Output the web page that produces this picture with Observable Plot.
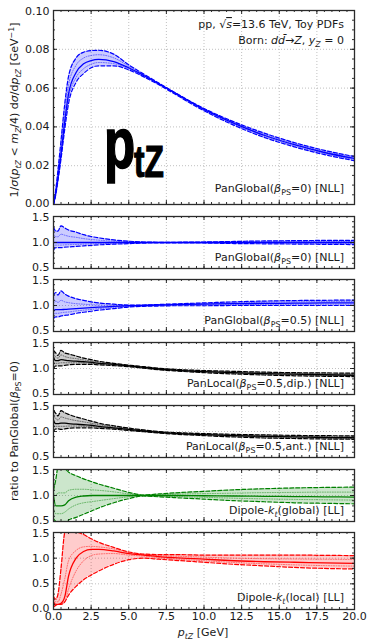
<!DOCTYPE html>
<html><head><meta charset="utf-8">
<script src="https://cdn.jsdelivr.net/npm/d3@7"></script>
<script src="https://cdn.jsdelivr.net/npm/@observablehq/plot@0.6"></script>
<style>
body{margin:0;background:#fff;}
#c{position:relative;width:367px;height:640px;font-family:"DejaVu Sans",sans-serif;}
#c svg{position:absolute;left:0;overflow:visible;}
</style></head><body><div id="c"></div>
<script>
// ---- data ----
const X = [0, 0.15, 0.3, 0.5, 0.75, 1, 1.5, 2, 2.5, 3, 4, 5, 6, 7, 8, 10, 12, 14, 16, 18, 20];
const xTicks = [0, 2.5, 5, 7.5, 10, 12.5, 15, 17.5, 20];
const mainTicks = [0, 0.02, 0.04, 0.06, 0.08, 0.10];
const ratioTicks = [0.5, 1.0, 1.5];
const localTicks = [0.0, 0.5, 1.0, 1.5];

// main panel: PanGlobal(beta=0) distribution
const mainC  = [0, 0.006, 0.014, 0.026, 0.043, 0.057, 0.068, 0.0725, 0.0742, 0.0748, 0.0737, 0.0705, 0.0665, 0.0622, 0.0578, 0.049, 0.0418, 0.0357, 0.0308, 0.0268, 0.0237];
const mainU  = [0, 0.0075, 0.018, 0.033, 0.052, 0.066, 0.0755, 0.0785, 0.0793, 0.0795, 0.0775, 0.072, 0.0672, 0.0626, 0.058, 0.0495, 0.0426, 0.0368, 0.0319, 0.0279, 0.0247];
const mainL  = [0, 0.005, 0.0125, 0.0235, 0.039, 0.052, 0.063, 0.0675, 0.0705, 0.0715, 0.0715, 0.0694, 0.0658, 0.0617, 0.0572, 0.0483, 0.0408, 0.0346, 0.0297, 0.0257, 0.0226];
const mainDU = [0, 0.0068, 0.016, 0.0295, 0.0475, 0.0615, 0.0718, 0.0755, 0.0768, 0.0772, 0.0756, 0.0713, 0.0668, 0.0624, 0.0579, 0.0492, 0.0422, 0.0362, 0.0313, 0.0273, 0.0242];
const mainDL = [0, 0.0055, 0.013, 0.025, 0.041, 0.0545, 0.0655, 0.07, 0.0723, 0.0732, 0.0726, 0.07, 0.0662, 0.062, 0.0575, 0.0487, 0.0413, 0.0352, 0.0302, 0.0262, 0.0232];

// ratio 1: PanGlobal(beta=0)
const r1C  = [1, 1, 1, 1, 1, 1, 1, 1, 1, 1, 1, 1, 1, 1, 1, 1, 1, 1, 1, 1, 1];
const r1U  = [1.3, 1.22, 1.22, 1.32, 1.28, 1.24, 1.2, 1.15, 1.115, 1.09, 1.05, 1.025, 1.01, 1.005, 1.005, 1.01, 1.02, 1.03, 1.035, 1.04, 1.04];
const r1L  = [0.85, 0.9, 0.9, 0.9, 0.91, 0.915, 0.925, 0.935, 0.945, 0.955, 0.968, 0.978, 0.988, 0.993, 0.993, 0.99, 0.98, 0.975, 0.97, 0.965, 0.96];
const r1DU = [1.15, 1.11, 1.11, 1.16, 1.14, 1.12, 1.1, 1.075, 1.058, 1.045, 1.025, 1.012, 1.005, 1.003, 1.003, 1.005, 1.01, 1.015, 1.018, 1.02, 1.02];
const r1DL = [0.92, 0.95, 0.95, 0.95, 0.955, 0.958, 0.962, 0.968, 0.972, 0.978, 0.984, 0.989, 0.994, 0.997, 0.997, 0.995, 0.99, 0.988, 0.985, 0.982, 0.98];

// ratio 2: PanGlobal(beta=0.5)
const r2C  = [0.9, 0.92, 0.92, 0.92, 0.925, 0.93, 0.94, 0.95, 0.96, 0.97, 0.985, 0.995, 1.0, 1.01, 1.015, 1.025, 1.035, 1.04, 1.045, 1.05, 1.05];
const r2U  = [1.2, 1.25, 1.2, 1.28, 1.22, 1.18, 1.13, 1.1, 1.07, 1.05, 1.025, 1.01, 1.01, 1.02, 1.03, 1.05, 1.07, 1.085, 1.095, 1.1, 1.105];
const r2L  = [0.75, 0.78, 0.78, 0.8, 0.81, 0.82, 0.85, 0.87, 0.89, 0.91, 0.94, 0.97, 0.985, 0.99, 0.995, 0.995, 1.0, 1.0, 1.0, 1.0, 1.0];
const r2DU = [1.05, 1.085, 1.06, 1.1, 1.07, 1.055, 1.035, 1.025, 1.015, 1.01, 1.005, 1.003, 1.005, 1.015, 1.022, 1.037, 1.052, 1.062, 1.07, 1.075, 1.078];
const r2DL = [0.83, 0.85, 0.85, 0.86, 0.87, 0.875, 0.895, 0.91, 0.925, 0.94, 0.962, 0.982, 0.992, 1.0, 1.005, 1.01, 1.018, 1.02, 1.022, 1.025, 1.025];

// ratio 3: PanLocal(beta=0.5, dip.)
const r3C  = [1.2, 1.15, 1.15, 1.17, 1.16, 1.15, 1.14, 1.13, 1.12, 1.1, 1.08, 1.05, 1.02, 0.99, 0.97, 0.94, 0.92, 0.9, 0.89, 0.88, 0.87];
const r3U  = [1.35, 1.3, 1.25, 1.35, 1.3, 1.28, 1.24, 1.2, 1.17, 1.14, 1.1, 1.065, 1.035, 1.005, 0.985, 0.96, 0.945, 0.93, 0.92, 0.915, 0.91];
const r3L  = [1.0, 1.05, 1.05, 1.05, 1.06, 1.07, 1.08, 1.08, 1.08, 1.07, 1.055, 1.035, 1.005, 0.975, 0.955, 0.92, 0.895, 0.875, 0.86, 0.85, 0.845];
const r3DU = [1.27, 1.22, 1.2, 1.26, 1.23, 1.21, 1.19, 1.165, 1.145, 1.12, 1.09, 1.057, 1.027, 0.997, 0.977, 0.95, 0.932, 0.915, 0.905, 0.897, 0.89];
const r3DL = [1.1, 1.1, 1.1, 1.11, 1.11, 1.11, 1.11, 1.105, 1.1, 1.085, 1.067, 1.042, 1.012, 0.982, 0.962, 0.93, 0.907, 0.887, 0.875, 0.865, 0.857];

// ratio 4: PanLocal(beta=0.5, ant.)
const r4C  = [1.2, 1.15, 1.15, 1.16, 1.16, 1.15, 1.14, 1.13, 1.12, 1.1, 1.07, 1.04, 1.01, 0.985, 0.965, 0.94, 0.92, 0.905, 0.895, 0.885, 0.88];
const r4U  = [1.4, 1.35, 1.3, 1.4, 1.36, 1.33, 1.28, 1.24, 1.2, 1.16, 1.11, 1.065, 1.03, 1.0, 0.98, 0.96, 0.945, 0.935, 0.925, 0.92, 0.915];
const r4L  = [1.0, 1.05, 1.05, 1.04, 1.05, 1.06, 1.07, 1.07, 1.07, 1.06, 1.045, 1.02, 0.995, 0.97, 0.95, 0.92, 0.895, 0.875, 0.865, 0.855, 0.85];
const r4DU = [1.3, 1.25, 1.22, 1.28, 1.26, 1.24, 1.21, 1.185, 1.16, 1.13, 1.09, 1.052, 1.02, 0.992, 0.972, 0.95, 0.932, 0.92, 0.91, 0.902, 0.897];
const r4DL = [1.1, 1.1, 1.1, 1.1, 1.1, 1.105, 1.105, 1.1, 1.095, 1.08, 1.057, 1.03, 1.002, 0.977, 0.957, 0.93, 0.907, 0.89, 0.88, 0.87, 0.865];

// ratio 5: Dipole-kt(global)
const r5C  = [1.0, 0.8, 0.8, 0.8, 0.82, 0.9, 0.97, 0.99, 1.0, 1.0, 1.0, 1.0, 1.0, 1.0, 1.0, 0.995, 0.99, 0.985, 0.98, 0.975, 0.97];
const r5U  = [1.1, 1.3, 1.55, 1.6, 1.52, 1.45, 1.38, 1.32, 1.27, 1.22, 1.14, 1.06, 1.01, 1.03, 1.05, 1.08, 1.11, 1.13, 1.145, 1.155, 1.16];
const r5L  = [0.55, 0.5, 0.45, 0.45, 0.48, 0.53, 0.58, 0.64, 0.7, 0.76, 0.86, 0.94, 0.99, 0.975, 0.96, 0.93, 0.9, 0.88, 0.86, 0.85, 0.84];
const r5DU = [1.05, 1.0, 1.05, 1.05, 1.05, 1.1, 1.12, 1.12, 1.11, 1.1, 1.07, 1.03, 1.005, 1.015, 1.025, 1.035, 1.045, 1.055, 1.06, 1.065, 1.065];
const r5DL = [0.75, 0.65, 0.65, 0.65, 0.68, 0.74, 0.82, 0.86, 0.88, 0.9, 0.94, 0.975, 0.995, 0.987, 0.98, 0.965, 0.948, 0.935, 0.925, 0.918, 0.912];

// ratio 6: Dipole-kt(local)
const r6C  = [0.15, 0.1, 0.1, 0.12, 0.25, 0.65, 1.0, 1.13, 1.17, 1.17, 1.14, 1.09, 1.06, 1.03, 1.01, 0.98, 0.95, 0.93, 0.92, 0.91, 0.9];
const r6U  = [0.25, 0.2, 0.3, 0.8, 1.5, 1.62, 1.52, 1.46, 1.38, 1.31, 1.21, 1.12, 1.08, 1.07, 1.07, 1.06, 1.06, 1.06, 1.06, 1.055, 1.05];
const r6L  = [0.05, 0.08, 0.1, 0.1, 0.15, 0.28, 0.45, 0.58, 0.67, 0.75, 0.88, 0.97, 1.0, 0.98, 0.96, 0.92, 0.88, 0.85, 0.82, 0.8, 0.79];
const r6DU = [0.2, 0.15, 0.15, 0.3, 0.6, 0.95, 1.15, 1.22, 1.23, 1.22, 1.18, 1.11, 1.07, 1.05, 1.04, 1.02, 1.0, 0.99, 0.985, 0.98, 0.975];
const r6DL = [0.1, 0.1, 0.1, 0.1, 0.15, 0.4, 0.75, 0.95, 1.05, 1.08, 1.09, 1.06, 1.04, 1.01, 0.985, 0.95, 0.915, 0.89, 0.87, 0.855, 0.845];

// ---- layout ----
const W = 367, ML = 53, MR = 13, IW = W - ML - MR;
const FS = 11;
const INK = "#1a1a1a";
const BLUE = "#0000ff", BLACK = "#000000", GREEN = "#008000", RED = "#ff0000";
const container = document.getElementById("c");
const curve = "monotone-x";

function panel(o) {
  const rows = X.map((x, i) => ({x, c: o.C[i], u: o.U[i], l: o.L[i], du: o.DU[i], dl: o.DL[i]}));
  const h = o.h;
  const xMinor = d3.range(0, 20.001, 0.5);
  const yMinor = d3.range(o.y0, o.y1 + 1e-9, o.minor);
  const tk = {stroke: INK, strokeWidth: 0.9};
  const fmt = d3.format(o.fmt);
  const yt = o.ticks;
  const axisOpts = {tickSize: 0, tickPadding: 4, tickFormat: fmt, label: null, fill: INK};
  const marks = [
    Plot.ruleX(xTicks.slice(1, -1), {stroke: "#b0b0b0", strokeWidth: 0.8, strokeDasharray: "1,2"}),
    Plot.ruleY(o.grid, {stroke: "#b0b0b0", strokeWidth: 0.8, strokeDasharray: "1,2"}),
    Plot.areaY(rows, {x: "x", y1: "l", y2: "u", fill: o.col, fillOpacity: 0.2, curve, clip: true}),
    Plot.lineY(rows, {x: "x", y: "du", stroke: o.col, strokeWidth: 0.9, strokeOpacity: 0.55, strokeDasharray: "1,1.5", curve, clip: true}),
    Plot.lineY(rows, {x: "x", y: "dl", stroke: o.col, strokeWidth: 0.9, strokeOpacity: 0.55, strokeDasharray: "1,1.5", curve, clip: true}),
    Plot.lineY(rows, {x: "x", y: "u", stroke: o.col, strokeWidth: 1.2, strokeDasharray: "4,2", curve, clip: true}),
    Plot.lineY(rows, {x: "x", y: "l", stroke: o.col, strokeWidth: 1.2, strokeDasharray: "4,2", curve, clip: true}),
    Plot.lineY(rows, {x: "x", y: "c", stroke: o.col, strokeWidth: 1.3, curve, clip: true}),
    // inward ticks on all sides
    Plot.ruleX(xTicks, {...tk, insetTop: h - 4}),
    Plot.ruleX(xTicks, {...tk, insetBottom: h - 4}),
    Plot.ruleX(xMinor, {...tk, insetTop: h - 2}),
    Plot.ruleX(xMinor, {...tk, insetBottom: h - 2}),
    Plot.ruleY(yt, {...tk, insetRight: IW - 4}),
    Plot.ruleY(yt, {...tk, insetLeft: IW - 4}),
    Plot.ruleY(yMinor, {...tk, insetRight: IW - 2}),
    Plot.ruleY(yMinor, {...tk, insetLeft: IW - 2}),
    Plot.frame({stroke: "#2a2a2a", strokeWidth: 1.3}),
    // y tick labels: edge labels nudged slightly inward so neighbouring panels' labels don't collide
    Plot.axisY(yt.slice(0, 1), {...axisOpts, dy: -1}),
    Plot.axisY(yt.slice(1, -1), axisOpts),
    Plot.axisY(yt.slice(-1), {...axisOpts, dy: 1})
  ];
  if (o.bottom) marks.push(Plot.axisX(xTicks, {tickSize: 0, tickPadding: 3, tickFormat: d3.format(".1f"), label: null, fill: INK}));
  const svg = Plot.plot({
    width: W, height: h + (o.bottom ? 30 : 0),
    marginLeft: ML, marginRight: MR, marginTop: 0, marginBottom: o.bottom ? 30 : 0,
    x: {domain: [0, 20], axis: null},
    y: {domain: [o.y0, o.y1], axis: null},
    style: {background: "transparent", overflow: "visible", fontFamily: "DejaVu Sans", fontSize: FS + "px", color: INK},
    marks
  });
  svg.style.top = o.top + "px";
  container.appendChild(svg);
}

const ratioH = 52;
panel({top: 10, h: 194, y0: 0, y1: 0.1, ticks: mainTicks, minor: 0.005, grid: [0.02, 0.04, 0.06, 0.08], fmt: ".2f", col: BLUE, C: mainC, U: mainU, L: mainL, DU: mainDU, DL: mainDL});
panel({top: 216, h: ratioH, y0: 0.5, y1: 1.5, ticks: ratioTicks, minor: 0.1, grid: [1.0], fmt: ".1f", col: BLUE, C: r1C, U: r1U, L: r1L, DU: r1DU, DL: r1DL});
panel({top: 279, h: ratioH, y0: 0.5, y1: 1.5, ticks: ratioTicks, minor: 0.1, grid: [1.0], fmt: ".1f", col: BLUE, C: r2C, U: r2U, L: r2L, DU: r2DU, DL: r2DL});
panel({top: 342, h: ratioH, y0: 0.5, y1: 1.5, ticks: ratioTicks, minor: 0.1, grid: [1.0], fmt: ".1f", col: BLACK, C: r3C, U: r3U, L: r3L, DU: r3DU, DL: r3DL});
panel({top: 405, h: ratioH, y0: 0.5, y1: 1.5, ticks: ratioTicks, minor: 0.1, grid: [1.0], fmt: ".1f", col: BLACK, C: r4C, U: r4U, L: r4L, DU: r4DU, DL: r4DL});
panel({top: 469, h: ratioH, y0: 0.5, y1: 1.5, ticks: ratioTicks, minor: 0.1, grid: [1.0], fmt: ".1f", col: GREEN, C: r5C, U: r5U, L: r5L, DU: r5DU, DL: r5DL});
panel({top: 532, h: 77, y0: 0, y1: 1.5, ticks: localTicks, minor: 0.1, grid: [0.5, 1.0], fmt: ".1f", col: RED, C: r6C, U: r6U, L: r6L, DU: r6DU, DL: r6DL, bottom: true});

// ---- text overlay ----
const ov = d3.select(container).append("svg")
  .attr("width", W).attr("height", 640).style("top", "0px").style("pointer-events", "none")
  .attr("font-family", "DejaVu Sans").attr("fill", INK);

function rich(x, y, parts, {anchor = "end", size = FS, rotate = 0} = {}) {
  const t = ov.append("text").attr("x", x).attr("y", y).attr("text-anchor", anchor).attr("font-size", size);
  if (rotate) t.attr("transform", `rotate(${rotate},${x},${y})`);
  let shift = 0;
  for (const [s, st = ""] of parts) {
    const sp = t.append("tspan").text(s);
    let target = 0;
    if (st.includes("i")) sp.attr("font-style", "italic");
    if (st.includes("o")) sp.attr("text-decoration", "overline");
    if (st.includes("_")) { target = 2.8; sp.attr("font-size", size * 0.72); }
    if (st.includes("^")) { target = -4.5; sp.attr("font-size", size * 0.72); }
    if (target !== shift) { sp.attr("dy", target - shift); shift = target; }
  }
  return t;
}

const RX = 344;
rich(RX, 28, [["pp, √"], ["s", "io"], ["=13.6 TeV, Toy PDFs"]]);
rich(RX, 44, [["Born: "], ["dd̄", "i"], ["→"], ["Z", "i"], [", "], ["y", "i"], ["Z", "i_"], [" = 0"]]);
rich(RX, 192, [["PanGlobal("], ["β", "i"], ["PS", "_"], ["=0) [NLL]"]]);
rich(RX, 261, [["PanGlobal("], ["β", "i"], ["PS", "_"], ["=0) [NLL]"]]);
rich(RX, 324, [["PanGlobal("], ["β", "i"], ["PS", "_"], ["=0.5) [NLL]"]]);
rich(RX, 387, [["PanLocal("], ["β", "i"], ["PS", "_"], ["=0.5,dip.) [NLL]"]]);
rich(RX, 450, [["PanLocal("], ["β", "i"], ["PS", "_"], ["=0.5,ant.) [NLL]"]]);
rich(RX, 514, [["Dipole-"], ["k", "i"], ["t", "i_"], ["(global) [LL]"]]);
rich(RX, 601, [["Dipole-"], ["k", "i"], ["t", "i_"], ["(local) [LL]"]]);
rich(203, 636, [["p", "i"], ["tZ", "i_"], [" [GeV]"]], {anchor: "middle"});
rich(18, 110, [["1/"], ["σ", "i"], ["("], ["p", "i"], ["tZ", "i_"], [" < "], ["m", "i"], ["Z", "i_"], ["/4) d"], ["σ", "i"], ["/d"], ["p", "i"], ["tZ", "i_"], [" [GeV"], ["−1", "^"], ["]"]], {anchor: "middle", rotate: -90});
rich(18, 431, [["ratio to PanGlobal("], ["β", "i"], ["PS", "_"], ["=0)"]], {anchor: "middle", rotate: -90});

// logo
ov.append("text").attr("transform", "translate(104,168) scale(0.7,1)")
  .attr("font-family", "Liberation Sans, Arial, sans-serif").attr("font-weight", 700).attr("font-size", 73)
  .attr("fill", "#000").attr("stroke", "#000").attr("stroke-width", 1.6).text("p");
ov.append("text").attr("transform", "translate(134,177) scale(0.72,1)")
  .attr("font-family", "Liberation Sans, Arial, sans-serif").attr("font-weight", 700).attr("font-size", 44)
  .attr("fill", "#000").attr("stroke", "#000").attr("stroke-width", 1.2).text("tZ");
</script></body></html>
